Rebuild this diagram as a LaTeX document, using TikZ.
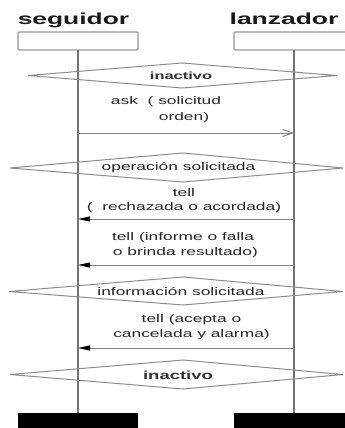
\documentclass[tikz,border=0pt]{standalone}
\usepackage{fontspec}
\setmainfont{Liberation Sans}
\usetikzlibrary{arrows.meta}
\begin{document}
\begin{tikzpicture}[x=1pt,y=-1pt,
  every node/.style={inner sep=0pt, outer sep=0pt},
  title/.style={font=\bfseries\fontsize{16}{18}\selectfont, xscale=1.65, anchor=base, text=black!90},
  headbox/.style={draw=black!40, line width=1.4pt, fill=white, rounded corners=1pt,
                  minimum width=120pt, minimum height=18pt},
  endbox/.style={fill=black, minimum width=120pt, minimum height=17pt},
  lifeline/.style={draw=black!55, line width=1.3pt},
  statebox/.style={draw=black!45, line width=1pt},
  statelbl/.style={font=\bfseries\fontsize{11}{13}\selectfont, xscale=1.58, text=black!80},
  statetxt/.style={font=\fontsize{11}{13}\selectfont, xscale=1.58, text=black!85},
  msg/.style={font=\fontsize{11}{14.5}\selectfont, xscale=1.58, align=center, text=black!85},
  call/.style={draw=black!50, line width=1pt, -{Straight Barb[length=10pt,width=7pt]}},
  reply/.style={draw=black!50, line width=1pt, -{Triangle[length=12pt,width=5pt,color=black]}},
]
\useasboundingbox (0,0) rectangle (345,428);
\clip (0,0) rectangle (345,428);

% participants
\node[title] (tseg) at (73.5,25) {seguidor};
\node[title] (tlan) at (284,25) {lanzador};
\node[headbox] (hL) at (78,41) {};
\node[headbox] (hR) at (294,41) {};
\node[endbox] (eL) at (78,421.5) {};
\node[endbox] (eR) at (294,421.5) {};

% lifelines
\draw[lifeline] (hL.south) -- (eL.north);
\draw[lifeline] (hR.south) -- (eR.north);

% states
\draw[statebox] (28,75.5) -- (182,63) -- (337,75.5) -- (182,88) -- cycle;
\node[statelbl, font=\bfseries\fontsize{10.4}{12}\selectfont] (s1) at (181,76) {inactivo};

\draw[statebox] (10,168) -- (183,153) -- (343,168) -- (183,182) -- cycle;
\node[statetxt] (s2) at (178.5,168) {operación solicitada};

\draw[statebox] (9,291.5) -- (183,277) -- (343,291.5) -- (183,305) -- cycle;
\node[statetxt] (s3) at (181,292) {información solicitada};

\draw[statebox] (10,374.5) -- (183,360) -- (343,374.5) -- (183,389) -- cycle;
\node[statelbl, font=\bfseries\fontsize{11.7}{13}\selectfont] (s4) at (178,375) {inactivo};

% message ends on the lifelines
\coordinate (c1L) at (hL.south |- 0,133);
\coordinate (c1R) at (hR.south |- 0,133);
\coordinate (c2L) at (hL.south |- 0,219);
\coordinate (c2R) at (hR.south |- 0,219);
\coordinate (c3L) at (hL.south |- 0,265);
\coordinate (c3R) at (hR.south |- 0,265);
\coordinate (c4L) at (hL.south |- 0,348);
\coordinate (c4R) at (hR.south |- 0,348);

% messages
\node[msg] (m1a) at (166,102) {ask~~(~solicitud};
\node[msg] (m1b) at (184,118) {orden)};
\draw[call] (c1L) -- (c1R);

\node[msg] (m2) at (184,200.5) {tell\\(\ \ rechazada o acordada)};
\draw[reply] (c2R) -- (c2L);

\node[msg] (m3) at (183,245) {tell (informe o falla\\\ o brinda resultado)};
\draw[reply] (c3R) -- (c3L);

\node[msg] (m4) at (191.5,327) {tell (acepta o\\cancelada y alarma)};
\draw[reply] (c4R) -- (c4L);
\end{tikzpicture}
\end{document}
